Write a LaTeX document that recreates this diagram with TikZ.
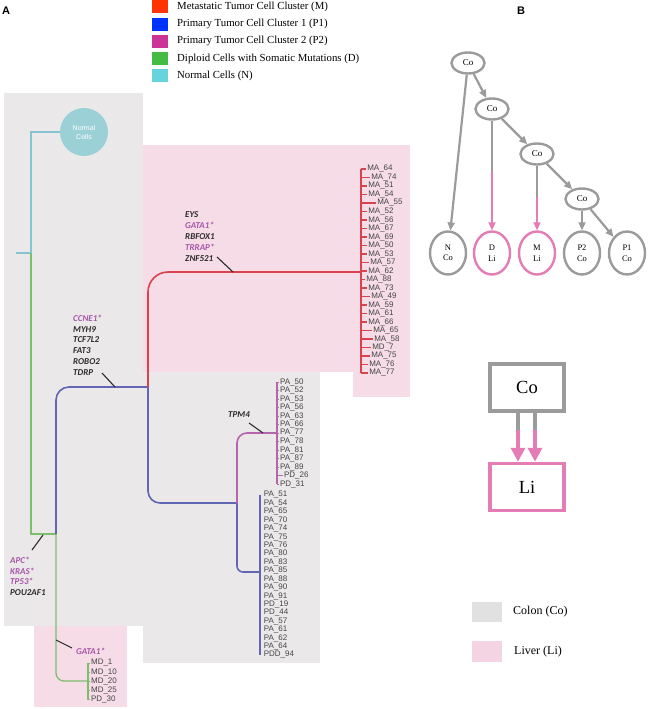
\documentclass[tikz,border=0pt]{standalone}
\usepackage{fontspec}
\setmainfont{Liberation Serif}
\setsansfont{Liberation Sans}
\newfontfamily\genefont{Carlito}
\usetikzlibrary{shapes.geometric,arrows.meta}

\definecolor{colonbg}{HTML}{EBE8E9}
\definecolor{liverbg}{HTML}{F6DCE7}
\definecolor{legM}{HTML}{FF3300}
\definecolor{legP}{HTML}{0033FF}
\definecolor{legQ}{HTML}{CC3399}
\definecolor{legD}{HTML}{44BB44}
\definecolor{legN}{HTML}{66D3DD}
\definecolor{treeM}{HTML}{D9434E}
\definecolor{treeP}{HTML}{6165B3}
\definecolor{treeQ}{HTML}{B565AE}
\definecolor{treeD}{HTML}{7DBE6C}
\definecolor{treeN}{HTML}{86C5CF}
\definecolor{normalc}{HTML}{9CD0D7}
\definecolor{leafgray}{HTML}{454545}
\definecolor{geneblack}{HTML}{2B2B2B}
\definecolor{genepurple}{HTML}{A855A8}
\definecolor{bgray}{HTML}{9B9B9B}
\definecolor{bpink}{HTML}{E47CB6}
\definecolor{colonkey}{HTML}{E1E1E1}
\definecolor{liverkey}{HTML}{F4D3E3}

\tikzset{
  legtext/.style={anchor=west, inner sep=0pt, font=\fontsize{10.8}{12}\selectfont},
  panel/.style={inner sep=0pt, font=\sffamily\bfseries\fontsize{11}{12}\selectfont},
  leaflab/.style={anchor=west, inner sep=0.6pt, text=leafgray, font=\sffamily\fontsize{8}{8}\selectfont},
  genes/.style={anchor=north west, align=left, inner sep=0pt, text=geneblack,
    font=\genefont\bfseries\itshape\fontsize{9}{10.9}\selectfont},
  ptr/.style={line width=1.1pt, geneblack},
  branch/.style={line width=1.6pt},
  twig/.style={line width=1.3pt},
  cellnode/.style={ellipse, draw=bgray, line width=2.4pt, minimum width=33pt,
    minimum height=21pt, inner sep=0pt, font=\fontsize{9}{9}\selectfont},
  leafnode/.style={ellipse, draw=bgray, line width=2.4pt, minimum width=36pt,
    minimum height=43pt, inner sep=0pt, align=center, font=\fontsize{8.5}{10.5}\selectfont},
  gedge/.style={draw=bgray, line width=2.2pt},
  garrow/.style={gedge, -{Triangle[width=7pt,length=8pt]}},
  parrow/.style={draw=bpink, line width=2.2pt, -{Triangle[width=7pt,length=8pt]}},
  sitebox/.style={rectangle, line width=3.5pt, minimum width=74pt, minimum height=47pt,
    inner sep=0pt, font=\fontsize{18.5}{20}\selectfont},
  keytext/.style={anchor=west, inner sep=0pt, font=\fontsize{12}{13}\selectfont}
}

\begin{document}
\begin{tikzpicture}[x=1pt,y=-1pt]
\useasboundingbox (0,0) rectangle (648,709);

% tissue backgrounds
\fill[colonbg] (4,93) rectangle (143,626);
\fill[colonbg] (143,372) rectangle (320,663);
\fill[liverbg] (143,145) rectangle (410,372);
\fill[liverbg] (353,372) rectangle (410,397);
\fill[liverbg] (34,626) rectangle (127,707);

% panel labels
\node[panel] (labA) at (6,10.5) {A};
\node[panel] (labB) at (521,10.5) {B};

% cluster legend
\foreach \c/\t [count=\i from 0] in {legM/Metastatic Tumor Cell Cluster (M),legP/Primary Tumor Cell Cluster 1 (P1),legQ/Primary Tumor Cell Cluster 2 (P2),legD/Diploid Cells with Somatic Mutations (D),legN/Normal Cells (N)}
{
  \fill[\c] (152,0.5+17.2*\i) rectangle ++(16,13);
  \node[legtext] (leg\i) at (177,7+17.2*\i) {\t};
}

% normal cells
\node[circle, fill=normalc, minimum size=48pt, inner sep=0pt, align=center, text=white,
  font=\sffamily\fontsize{7}{9}\selectfont] (cellN) at (84,132) {Normal\\Cells};
\draw[twig, treeN] (cellN.west) -- (31,132) -- (31,253);
\draw[twig, treeN] (16,253) -- (31,253);

% diploid branch
\draw[twig, treeD] (31,253) -- (31,534) -- (56,534);
\draw[twig, treeD, rounded corners=8pt] (56,534) -- (56,681) -- (88,681);
\draw[twig, treeD] (88,663) -- (88,700);
\foreach \lab [count=\i from 0] in {MD\_1,MD\_10,MD\_20,MD\_25,PD\_30}
  \draw[line width=1pt, treeD] (88,663+9.2*\i) -- ++(2,0) node[leaflab] (md\i) {\lab};

% primary tumour branches
\draw[branch, treeP, rounded corners=13pt] (56,534) -- (56,387) -- (148,387);
\draw[branch, treeP, rounded corners=12pt] (148,387) -- (148,503) -- (237,503);
\draw[branch, treeP, rounded corners=6pt] (237,503) -- (237,572) -- (260,572);
\draw[twig, treeP] (260,495) -- (260,655);
\foreach \lab [count=\i from 0] in {PA\_51,PA\_54,PA\_65,PA\_70,PA\_74,PA\_75,PA\_76,PA\_80,PA\_83,PA\_85,PA\_88,PA\_90,PA\_91,PD\_19,PD\_44,PA\_57,PA\_61,PA\_62,PA\_64,PDD\_94}
  \node[leaflab] (pa\i) at (263,495+8.42*\i) {\lab};

\draw[branch, treeQ, rounded corners=10pt] (237,503) -- (237,433) -- (277,433);
\draw[twig, treeQ] (277,382) -- (277,484);
\foreach \lab/\ext [count=\i from 0] in {PA\_50/0,PA\_52/0,PA\_53/0,PA\_56/0,PA\_63/0,PA\_66/0,PA\_77/0,PA\_78/0,PA\_81/0,PA\_87/0,PA\_89/0,PD\_26/4,PD\_31/0}
  \draw[line width=1pt, treeQ] (277,382+8.5*\i) -- ++(2+\ext,0) node[leaflab] (pb\i) {\lab};

% metastatic branch
\draw[branch, treeM, rounded corners=20pt] (148,387) -- (148,272) -- (361,272);
\draw[twig, treeM] (361,169) -- (361,373);
\foreach \lab/\ext [count=\i from 0] in {MA\_64/0,MA\_74/4,MA\_51/1,MA\_54/1,MA\_55/10,MA\_52/1,MA\_56/1,MA\_67/1,MA\_69/1,MA\_50/1,MA\_53/1,MA\_57/3,MA\_62/1,MA\_88/-1,MA\_73/1,MA\_49/4,MA\_59/1,MA\_61/1,MA\_66/1,MA\_65/6,MA\_58/7,MD\_7/5,MA\_75/4,MA\_76/2,MA\_77/2}
  \draw[twig, treeM] (361,169+8.5*\i) -- ++(5+\ext,0) node[leaflab] (ma\i) {\lab};

% mutated genes
\node[genes] (gM) at (185,211.5) {EYS\\\textcolor{genepurple}{GATA1*}\\RBFOX1\\\textcolor{genepurple}{TRRAP*}\\ZNF521};
\node[genes] (gP) at (73,314.5) {\textcolor{genepurple}{CCNE1*}\\MYH9\\TCF7L2\\FAT3\\ROBO2\\TDRP};
\node[genes] (gQ) at (228,411.5) {TPM4};
\node[genes] (gD) at (10,556.5) {\textcolor{genepurple}{APC*}\\\textcolor{genepurple}{KRAS*}\\\textcolor{genepurple}{TP53*}\\POU2AF1};
\node[genes] (gMD) at (76,647.5) {\textcolor{genepurple}{GATA1*}};

\coordinate (tM) at (217,257);   \coordinate (bM) at (233,272);
\coordinate (tP) at (102,373);   \coordinate (bP) at (115,387);
\coordinate (tQ) at (249,423);   \coordinate (bQ) at (263,433);
\coordinate (tD) at (32,550);    \coordinate (bD) at (43,535);
\coordinate (tMD) at (72,648);   \coordinate (bMD) at (56,640);
\draw[ptr] (tM) -- (bM);
\draw[ptr] (tP) -- (bP);
\draw[ptr] (tQ) -- (bQ);
\draw[ptr] (tD) -- (bD);
\draw[ptr] (tMD) -- (bMD);

% migration tree
\node[cellnode] (c1) at (468,63) {Co};
\node[cellnode] (c2) at (492,109) {Co};
\node[cellnode] (c3) at (537,154) {Co};
\node[cellnode] (c4) at (582,199) {Co};
\node[leafnode] (nN) at (448,253) {N\\Co};
\node[leafnode, draw=bpink] (nD) at (492,253) {D\\Li};
\node[leafnode, draw=bpink] (nM) at (537,253) {M\\Li};
\node[leafnode] (nQ) at (582,253) {P2\\Co};
\node[leafnode] (nP) at (627,253) {P1\\Co};

\draw[garrow] (c1) -- (nN);
\draw[garrow] (c1) -- (c2);
\draw[garrow] (c2) -- (c3);
\draw[garrow] (c3) -- (c4);
\draw[garrow] (c4) -- (nQ);
\draw[garrow] (c4) -- (nP);
\coordinate (mD) at (492,172);
\coordinate (mM) at (537,197);
\draw[gedge] (c2) -- (mD);
\draw[parrow] (mD) -- (nD);
\draw[gedge] (c3) -- (mM);
\draw[parrow] (mM) -- (nM);

% site graph
\node[sitebox, draw=bgray] (siteCo) at (527,387.5) {Co};
\node[sitebox, draw=bpink] (siteLi) at (527,487) {Li};
\coordinate (s1) at (518,430);
\coordinate (s2) at (535,430);
\draw[draw=bgray, line width=3.5pt] (siteCo.south -| s1) -- (s1);
\draw[draw=bgray, line width=3.5pt] (siteCo.south -| s2) -- (s2);
\draw[draw=bpink, line width=3.5pt, -{Triangle[width=14pt,length=14pt]}] (s1) -- (s1 |- siteLi.north);
\draw[draw=bpink, line width=3.5pt, -{Triangle[width=14pt,length=14pt]}] (s2) -- (s2 |- siteLi.north);

% tissue legend
\fill[colonkey] (472,602) rectangle (502,622);
\fill[liverkey] (472,641) rectangle (502,662);
\node[keytext] (keyCo) at (513,612) {Colon (Co)};
\node[keytext] (keyLi) at (514,652) {Liver (Li)};
\end{tikzpicture}
\end{document}
